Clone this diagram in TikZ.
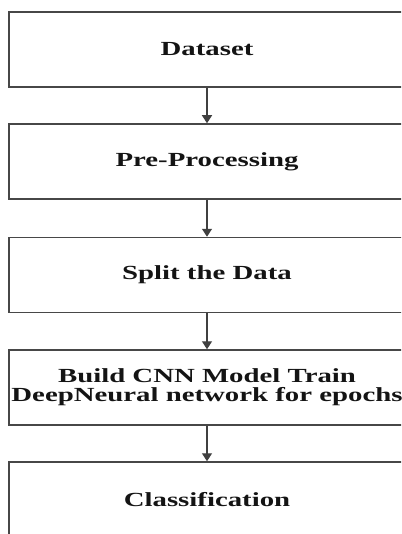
\documentclass[tikz,border=0pt]{standalone}
\usepackage{fontspec}
\setmainfont{Liberation Serif}
\newfontfamily\stepfont[FakeStretch=1.44]{Liberation Serif}
\usetikzlibrary{arrows.meta}
\begin{document}
\begin{tikzpicture}[x=1pt,y=-1pt,
  stepbox/.style={draw=black!72, line width=1.5pt, minimum width=396pt,
    minimum height=75pt, inner sep=0pt, align=center, text=black!92,
    font=\stepfont\bfseries\fontsize{20}{19}\selectfont},
  flow/.style={draw=black!75, line width=1.4pt,
    -{Triangle[width=10pt,length=8pt]}}]
\useasboundingbox (0,0) rectangle (401,534);
\clip (0,0) rectangle (401,534);

\node[stepbox] (data)  at (207,49.5)  {Dataset};
\node[stepbox] (prep)  at (207,161.5) {Pre-Processing};
\node[stepbox] (split) at (207,275)   {Split the Data};
\node[stepbox] (cnn)   at (207,387.5) {Build CNN Model Train\\DeepNeural network for epochs};
\node[stepbox] (cls)   at (207,499.5) {Classification};

\draw[flow] (data)  -- (prep);
\draw[flow] (prep)  -- (split);
\draw[flow] (split) -- (cnn);
\draw[flow] (cnn)   -- (cls);
\end{tikzpicture}
\end{document}
